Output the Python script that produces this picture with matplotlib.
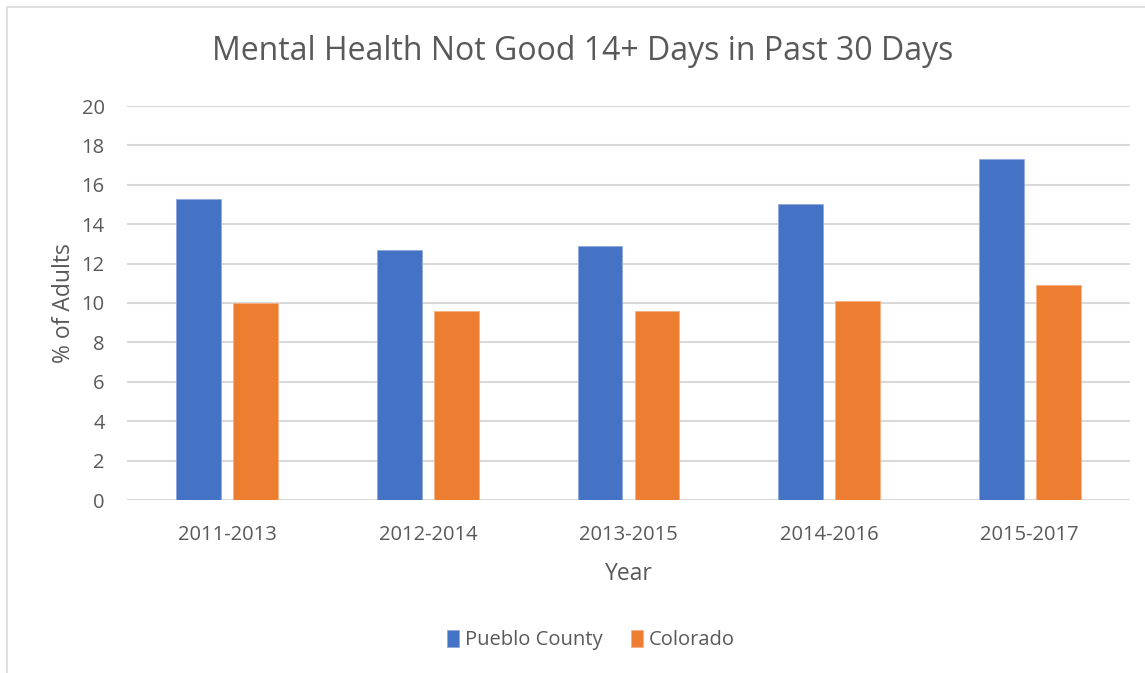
import matplotlib
matplotlib.use("Agg")
import matplotlib.pyplot as plt
import numpy as np
from matplotlib.patches import Rectangle

categories = ["2011-2013", "2012-2014", "2013-2015", "2014-2016", "2015-2017"]
pueblo = [15.3, 12.7, 12.9, 15.0, 17.3]
colorado = [10.0, 9.6, 9.6, 10.1, 10.9]
yticks = [0, 2, 4, 6, 8, 10, 12, 14, 16, 18, 20]

plt.rcParams['font.family'] = ['Open Sans', 'DejaVu Sans']
txt = '#595959'

fig = plt.figure(figsize=(11.45, 6.73), dpi=100)
fig.patches.append(Rectangle((7/1145, -0.1), 1.2, (673-7)/673 + 0.1, transform=fig.transFigure,
                             fill=False, edgecolor='#d9d9d9', lw=1.2))
ax = fig.add_axes([127/1145, (673-500)/673, (1130-127)/1145, (500-106)/673])

x = np.arange(len(categories))
w = 0.224
off = 0.142
ax.bar(x - off, pueblo, w, color='#4472C4', label='Pueblo County', zorder=3,
       edgecolor='#8faadc', linewidth=0.6)
ax.bar(x + off, colorado, w, color='#ED7D31', label='Colorado', zorder=3,
       edgecolor='#f4b183', linewidth=0.6)

ax.set_xlim(-0.5, len(categories) - 0.5)
ax.set_ylim(0, 20)
ax.set_yticks(yticks)
ax.set_xticks(x)
ax.set_xticklabels(categories)
ax.yaxis.grid(True, color='#d9d9d9', lw=1.5, zorder=0)
ax.set_axisbelow(True)
for s in ax.spines.values():
    s.set_visible(False)
ax.tick_params(axis='both', length=0, labelsize=14.5, colors=txt)
ax.tick_params(axis='y', pad=16)
ax.tick_params(axis='x', pad=18)

ax.set_ylabel('% of Adults', fontsize=16.5, color=txt, labelpad=4)
ax.set_xlabel('Year', fontsize=16.5, color=txt, labelpad=12)
fig.text(583/1145, 1 - 52/673, 'Mental Health Not Good 14+ Days in Past 30 Days',
         ha='center', va='center', fontsize=23, color=txt)

leg = fig.legend(loc='center', bbox_to_anchor=(591/1145, 1 - 640/673), ncol=2, frameon=False,
                 fontsize=14.5, handlelength=0.6, handleheight=0.9, handletextpad=0.3,
                 columnspacing=1.4, labelcolor=txt)

fig.savefig('out.png', dpi=100)
